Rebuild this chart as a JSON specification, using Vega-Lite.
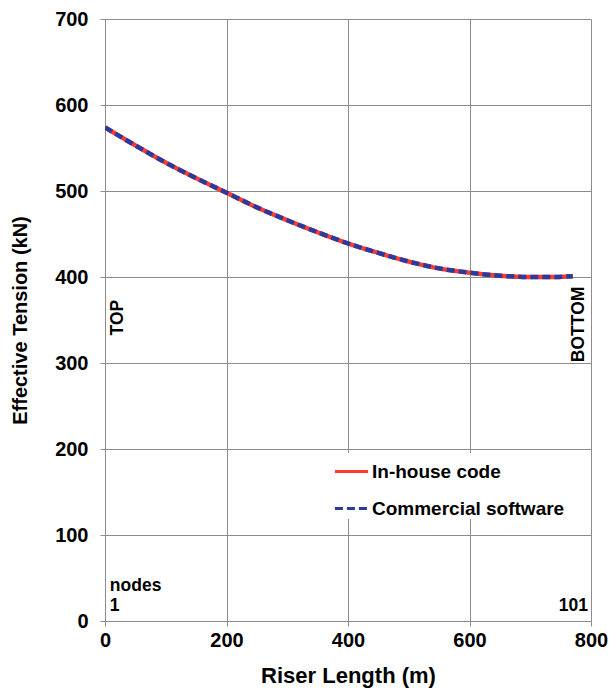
{
  "$schema": "https://vega.github.io/schema/vega-lite/v6.json",
  "width": 486,
  "height": 602,
  "autosize": "none",
  "padding": {"left": 105, "top": 19, "right": 20, "bottom": 74},
  "background": "white",
  "config": {
    "font": "Liberation Sans",
    "view": {"stroke": null},
    "axis": {
      "labelFont": "Liberation Sans",
      "labelFontWeight": "bold",
      "labelFontSize": 20,
      "labelColor": "#000000",
      "titleFont": "Liberation Sans",
      "titleFontWeight": "bold",
      "titleColor": "#000000",
      "gridColor": "#8c8c8c",
      "gridWidth": 1,
      "gridOpacity": 1,
      "domainColor": "#8c8c8c",
      "tickColor": "#8c8c8c",
      "tickSize": 5
    }
  },
  "datasets": {
    "tension": [
      {"length": 0, "tension": 574, "series": "In-house code"},
      {"length": 50, "tension": 553, "series": "In-house code"},
      {"length": 100, "tension": 533, "series": "In-house code"},
      {"length": 150, "tension": 515, "series": "In-house code"},
      {"length": 200, "tension": 498, "series": "In-house code"},
      {"length": 250, "tension": 481, "series": "In-house code"},
      {"length": 300, "tension": 466, "series": "In-house code"},
      {"length": 350, "tension": 452, "series": "In-house code"},
      {"length": 400, "tension": 439, "series": "In-house code"},
      {"length": 450, "tension": 428, "series": "In-house code"},
      {"length": 500, "tension": 418, "series": "In-house code"},
      {"length": 550, "tension": 410, "series": "In-house code"},
      {"length": 600, "tension": 405, "series": "In-house code"},
      {"length": 650, "tension": 401.5, "series": "In-house code"},
      {"length": 700, "tension": 400, "series": "In-house code"},
      {"length": 740, "tension": 400, "series": "In-house code"},
      {"length": 770, "tension": 401, "series": "In-house code"},
      {"length": 0, "tension": 574, "series": "Commercial software"},
      {"length": 50, "tension": 553, "series": "Commercial software"},
      {"length": 100, "tension": 533, "series": "Commercial software"},
      {"length": 150, "tension": 515, "series": "Commercial software"},
      {"length": 200, "tension": 498, "series": "Commercial software"},
      {"length": 250, "tension": 481, "series": "Commercial software"},
      {"length": 300, "tension": 466, "series": "Commercial software"},
      {"length": 350, "tension": 452, "series": "Commercial software"},
      {"length": 400, "tension": 439, "series": "Commercial software"},
      {"length": 450, "tension": 428, "series": "Commercial software"},
      {"length": 500, "tension": 418, "series": "Commercial software"},
      {"length": 550, "tension": 410, "series": "Commercial software"},
      {"length": 600, "tension": 405, "series": "Commercial software"},
      {"length": 650, "tension": 401.5, "series": "Commercial software"},
      {"length": 700, "tension": 400, "series": "Commercial software"},
      {"length": 740, "tension": 400, "series": "Commercial software"},
      {"length": 770, "tension": 401, "series": "Commercial software"}
    ],
    "endLabels": [
      {"length": 7, "tension": 332, "label": "TOP"},
      {"length": 765, "tension": 301, "label": "BOTTOM"}
    ],
    "leftLabels": [
      {"length": 8, "tension": 35, "label": "nodes"},
      {"length": 8, "tension": 12, "label": "1"}
    ],
    "rightLabels": [
      {"length": 795, "tension": 12, "label": "101"}
    ]
  },
  "layer": [
    {
      "data": {"name": "tension"},
      "mark": {"type": "line", "strokeWidth": 4.5, "interpolate": "monotone", "clip": true},
      "encoding": {
        "x": {
          "field": "length",
          "type": "quantitative",
          "scale": {"domain": [0, 800], "nice": false},
          "axis": {"title": "Riser Length (m)", "titleFontSize": 22, "values": [0, 200, 400, 600, 800], "labelPadding": 4, "titlePadding": 15, "labelFlush": false}
        },
        "y": {
          "field": "tension",
          "type": "quantitative",
          "scale": {"domain": [0, 700], "nice": false},
          "axis": {"title": "Effective Tension (kN)", "titleFontSize": 20, "values": [0, 100, 200, 300, 400, 500, 600, 700], "labelPadding": 12, "titlePadding": 24}
        },
        "color": {
          "field": "series",
          "type": "nominal",
          "scale": {"domain": ["In-house code", "Commercial software"], "range": ["#ff3b2f", "#2b3a9e"]},
          "legend": {
            "title": null,
            "orient": "none",
            "legendX": 228,
            "legendY": 434,
            "symbolType": "stroke",
            "symbolSize": 1100,
            "symbolStrokeWidth": 3,
            "labelFont": "Liberation Sans",
            "labelFontWeight": "bold",
            "labelFontSize": 19,
            "labelColor": "#000000",
            "labelOffset": 2,
            "labelLimit": 400,
            "rowPadding": 8,
            "fillColor": "white"
          }
        },
        "strokeDash": {
          "field": "series",
          "type": "nominal",
          "scale": {"domain": ["In-house code", "Commercial software"], "range": [[1, 0], [8, 4]]},
          "legend": null
        },
        "order": {"field": "length", "type": "quantitative"}
      }
    },
    {
      "data": {"name": "endLabels"},
      "mark": {"type": "text", "angle": 270, "align": "left", "baseline": "top", "font": "Liberation Sans", "fontWeight": "bold", "fontSize": 17.5, "color": "#000000"},
      "encoding": {
        "x": {"field": "length", "type": "quantitative"},
        "y": {"field": "tension", "type": "quantitative"},
        "text": {"field": "label"}
      }
    },
    {
      "data": {"name": "leftLabels"},
      "mark": {"type": "text", "align": "left", "baseline": "alphabetic", "font": "Liberation Sans", "fontWeight": "bold", "fontSize": 17.5, "color": "#000000"},
      "encoding": {
        "x": {"field": "length", "type": "quantitative"},
        "y": {"field": "tension", "type": "quantitative"},
        "text": {"field": "label"}
      }
    },
    {
      "data": {"name": "rightLabels"},
      "mark": {"type": "text", "align": "right", "baseline": "alphabetic", "font": "Liberation Sans", "fontWeight": "bold", "fontSize": 17.5, "color": "#000000"},
      "encoding": {
        "x": {"field": "length", "type": "quantitative"},
        "y": {"field": "tension", "type": "quantitative"},
        "text": {"field": "label"}
      }
    }
  ]
}
